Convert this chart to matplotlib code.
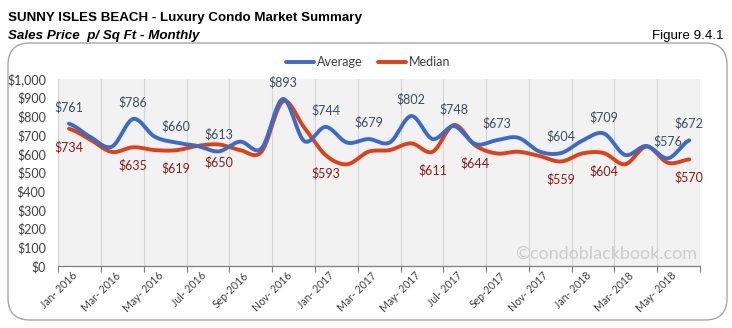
import numpy as np
import matplotlib.pyplot as plt
from matplotlib.patches import FancyBboxPatch
from matplotlib.transforms import ScaledTranslation

months = ['Jan- 2016', 'Feb-2016', 'Mar- 2016', 'Apr-2016', 'May- 2016', 'Jun-2016',
          'Jul- 2016', 'Aug-2016', 'Sep-2016', 'Oct-2016', 'Nov- 2016', 'Dec-2016',
          'Jan- 2017', 'Feb-2017', 'Mar- 2017', 'Apr-2017', 'May- 2017', 'Jun-2017',
          'Jul- 2017', 'Aug-2017', 'Sep-2017', 'Oct-2017', 'Nov- 2017', 'Dec-2017',
          'Jan- 2018', 'Feb-2018', 'Mar- 2018', 'Apr-2018', 'May- 2018', 'Jun-2018']
average = [761, 690, 638, 786, 692, 660, 642, 613, 665, 629, 893, 668, 744, 660, 679,
           661, 802, 679, 748, 652, 673, 686, 612, 604, 670, 709, 594, 642, 576, 672]
median = [734, 675, 610, 635, 620, 619, 642, 650, 620, 611, 880, 740, 593, 544, 611,
          620, 656, 611, 754, 644, 602, 611, 588, 559, 602, 604, 544, 638, 552, 570]
avg_labeled = [0, 3, 5, 7, 10, 12, 14, 16, 18, 20, 23, 25, 28, 29]
med_labeled = [0, 3, 5, 7, 12, 17, 19, 23, 25, 29]

BLUE = '#3B6BC9'
RED = '#DE4117'
FONT = ['Lato', 'DejaVu Sans']
NARROW = ['Liberation Sans Narrow', 'Liberation Sans', 'DejaVu Sans']


def smooth(y, n=24):
    # catmull-rom through the points, like excel's smoothed line
    y = np.asarray(y, dtype=float)
    p = np.concatenate([[y[0]], y, [y[-1]]])
    xs, ys = [], []
    t = np.linspace(0, 1, n, endpoint=False)
    for i in range(len(y) - 1):
        p0, p1, p2, p3 = p[i], p[i + 1], p[i + 2], p[i + 3]
        seg = 0.5 * (2 * p1 + (-p0 + p2) * t + (2 * p0 - 5 * p1 + 4 * p2 - p3) * t ** 2
                     + (-p0 + 3 * p1 - 3 * p2 + p3) * t ** 3)
        xs.extend(i + t)
        ys.extend(seg)
    xs.append(len(y) - 1)
    ys.append(y[-1])
    return np.array(xs), np.array(ys)


fig = plt.figure(figsize=(7.32, 3.28), dpi=100)
W, H = 732, 328

box = FancyBboxPatch((8 / W, 1 - 320 / H), 719 / W, 277 / H,
                     boxstyle='round,pad=0,rounding_size=0.03',
                     transform=fig.transFigure, facecolor='white',
                     edgecolor='#A6A6A6', linewidth=1.0, mutation_aspect=W / H,
                     zorder=-1)
fig.patches.append(box)

fig.text(8 / W, 1 - 18 / H, 'SUNNY ISLES BEACH - Luxury Condo Market Summary',
         family=NARROW, weight='bold', fontsize=9.6, va='center', ha='left')
fig.text(8 / W, 1 - 36 / H, 'Sales Price  p/ Sq Ft - Monthly', family=NARROW,
         weight='bold', style='italic', fontsize=9.6, va='center', ha='left')
fig.text(723 / W, 1 - 36 / H, 'Figure 9.4.1', family=NARROW, fontsize=9.6,
         va='center', ha='right')

ax = fig.add_axes([58.3 / W, 1 - 266 / H, (700 - 58.3) / W, (266 - 79) / H])
ax.set_facecolor('#F2F2F2')

x = np.arange(len(months))
sx, sy = smooth(average)
ax.plot(sx, sy, color=BLUE, lw=2.8, solid_capstyle='round', label='Average', zorder=3)
sx, sy = smooth(median)
ax.plot(sx, sy, color=RED, lw=2.8, solid_capstyle='round', label='Median', zorder=2)

for i in avg_labeled:
    ax.annotate(f'${average[i]}', (x[i], average[i]), xytext=(0, 12),
                textcoords='offset points', ha='center', va='center',
                fontsize=9, color='#404B63', family=FONT, zorder=4)
for i in med_labeled:
    ax.annotate(f'${median[i]}', (x[i], median[i]), xytext=(0, -13),
                textcoords='offset points', ha='center', va='center',
                fontsize=9, color='#8E1B14', family=FONT, zorder=4)

ax.set_xlim(-0.5, len(months) - 0.5)
ax.set_ylim(0, 1000)
ax.set_yticks(np.arange(0, 1001, 100))
ax.set_yticklabels([f'${v:,}' for v in range(0, 1001, 100)], family=FONT,
                   fontsize=9, color='#404040')
ax.tick_params(axis='y', length=0, pad=9)

ax.set_xticks(x[::2])
ax.set_xticklabels(months[::2], rotation=45, ha='right', va='top',
                   rotation_mode='anchor', family=FONT, fontsize=7.6, color='#404040')
ax.tick_params(axis='x', which='major', length=0, pad=3)
shift = ScaledTranslation(3 / 100, 0, fig.dpi_scale_trans)
for lbl in ax.get_xticklabels():
    lbl.set_transform(lbl.get_transform() + shift)
ax.set_xticks(np.arange(-0.5, len(months), 2), minor=True)
ax.tick_params(axis='x', which='minor', length=4, color='#7F7F7F', width=0.8)
ax.grid(axis='x', which='minor', color='#D4D4D4', lw=0.8)
ax.grid(axis='y', visible=False)
ax.set_axisbelow(True)

for s in ['left', 'right', 'top']:
    ax.spines[s].set_visible(False)
ax.spines['bottom'].set_color('#7F7F7F')
ax.spines['bottom'].set_linewidth(0.9)

ax.text(0.995, 0.02, '\u00a9condoblackbook.com', transform=ax.transAxes,
        ha='right', va='bottom', fontsize=13, color='#CCCCCC', family=FONT, zorder=1)

fig.legend(loc='center', bbox_to_anchor=(368 / W, 1 - 62 / H), ncol=2, frameon=False,
           prop={'family': FONT, 'size': 9}, handlelength=2.3, columnspacing=1.2,
           handletextpad=0.2, labelcolor='#404040')

fig.savefig('out.png', dpi=100)
